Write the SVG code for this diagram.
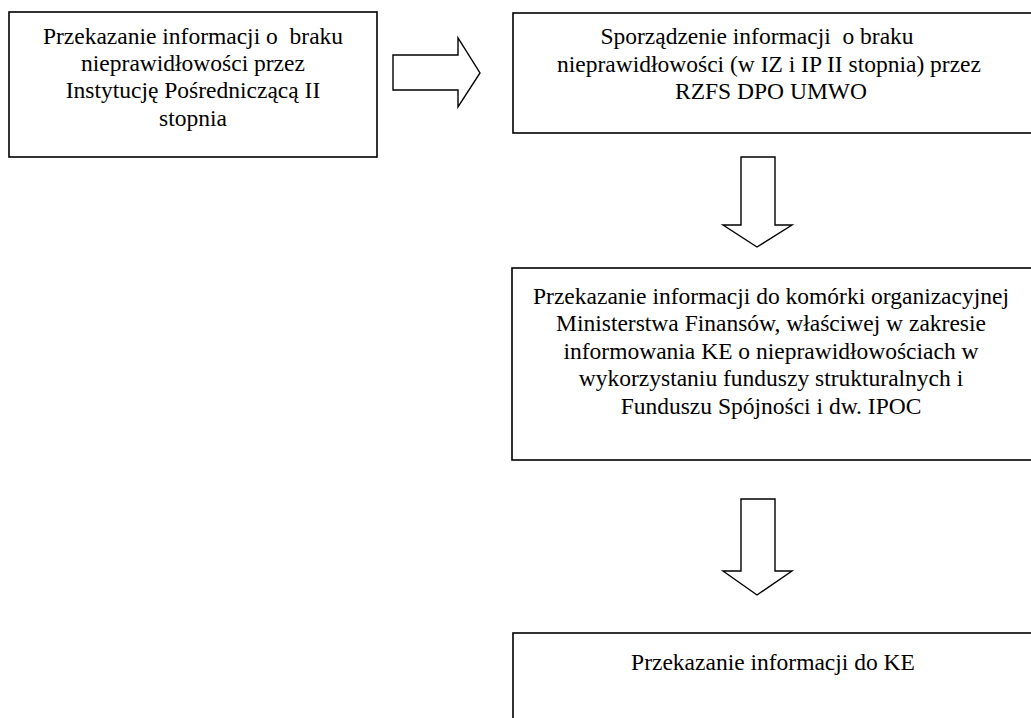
<svg xmlns="http://www.w3.org/2000/svg" width="1031" height="718" viewBox="0 0 1031 718">
<style>
.box{fill:#fff;stroke:#000;stroke-width:1.6}
.arr{fill:#fff;stroke:#000;stroke-width:1.4;stroke-linejoin:miter}
text{font-family:"Liberation Serif","Times New Roman",serif;font-size:23.5px;fill:#000;text-anchor:middle;white-space:pre}
</style>
<rect width="1031" height="718" fill="#fff"/>
<g id="node1">
<rect class="box" x="9" y="12" width="368" height="145"/>
<text x="193" y="43.5" xml:space="preserve">Przekazanie informacji o  braku</text>
<text x="193" y="71">nieprawidłowości przez</text>
<text x="193" y="98">Instytucję Pośredniczącą II</text>
<text x="193" y="125.5">stopnia</text>
</g>
<g id="node2">
<rect class="box" x="513" y="13" width="530" height="120"/>
<text x="757" y="44" xml:space="preserve">Sporządzenie informacji  o braku</text>
<text x="769" y="71.5">nieprawidłowości (w IZ i IP II stopnia) przez</text>
<text x="771" y="99">RZFS DPO UMWO</text>
</g>
<g id="node3">
<rect class="box" x="512" y="268" width="530" height="192"/>
<text x="771" y="303.5">Przekazanie informacji do komórki organizacyjnej</text>
<text x="771" y="331">Ministerstwa Finansów, właściwej w zakresie</text>
<text x="771" y="358.5">informowania KE o nieprawidłowościach w</text>
<text x="771" y="386">wykorzystaniu funduszy strukturalnych i</text>
<text x="771" y="413.5">Funduszu Spójności i dw. IPOC</text>
</g>
<g id="node4">
<rect class="box" x="513" y="633" width="530" height="100"/>
<text x="773" y="669.5">Przekazanie informacji do KE</text>
</g>
<g id="connectors">
<polygon class="arr" points="393,55 458,55 458,38 480,73 458,107 458,90 393,90"/>
<polygon class="arr" points="741,157 775,157 775,225 792,225 757,247 723,225 741,225"/>
<polygon class="arr" points="741,499 775,499 775,571 792,571 757,595 723,571 741,571"/>
</g>
</svg>
